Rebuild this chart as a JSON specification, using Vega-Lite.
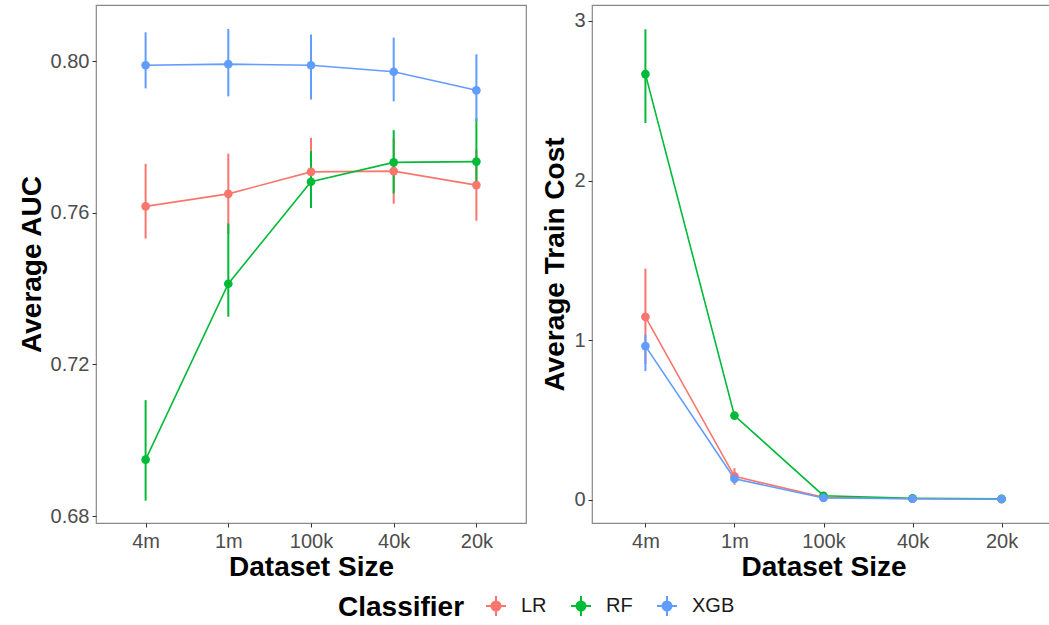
{
  "$schema": "https://vega.github.io/schema/vega-lite/v6.json",
  "padding": {"left": 17, "top": 4, "right": 0, "bottom": 0},
  "background": "white",
  "config": {
    "font": "Liberation Sans",
    "view": {"stroke": "#888888", "strokeWidth": 1.2},
    "axis": {
      "grid": false,
      "domain": false,
      "labelFontSize": 20,
      "labelColor": "#4d4d4d",
      "labelFont": "Liberation Sans",
      "titleFont": "Liberation Sans",
      "titleFontSize": 28,
      "titleFontWeight": "bold",
      "titleColor": "#000000",
      "tickColor": "#333333",
      "tickSize": 4,
      "labelPadding": 3
    },
    "axisX": {"labelAngle": 0, "titlePadding": 2, "labelPadding": 4},
    "axisY": {"titlePadding": 4},
    "concat": {"spacing": 14}
  },
  "data": {
    "values": [
      {"size": "4m", "clf": "LR", "auc": 0.7617, "auc_lo": 0.7532, "auc_hi": 0.7729, "cost": 1.146, "cost_lo": 0.85, "cost_hi": 1.448},
      {"size": "1m", "clf": "LR", "auc": 0.7650, "auc_lo": 0.7545, "auc_hi": 0.7756, "cost": 0.146, "cost_lo": 0.094, "cost_hi": 0.198},
      {"size": "100k", "clf": "LR", "auc": 0.7708, "auc_lo": 0.7618, "auc_hi": 0.7798, "cost": 0.015, "cost_lo": 0.008, "cost_hi": 0.022},
      {"size": "40k", "clf": "LR", "auc": 0.7710, "auc_lo": 0.7624, "auc_hi": 0.7796, "cost": 0.006, "cost_lo": 0.003, "cost_hi": 0.009},
      {"size": "20k", "clf": "LR", "auc": 0.7673, "auc_lo": 0.7579, "auc_hi": 0.7767, "cost": 0.004, "cost_lo": 0.002, "cost_hi": 0.006},
      {"size": "4m", "clf": "RF", "auc": 0.6949, "auc_lo": 0.6841, "auc_hi": 0.7106, "cost": 2.667, "cost_lo": 2.36, "cost_hi": 2.948},
      {"size": "1m", "clf": "RF", "auc": 0.7413, "auc_lo": 0.7326, "auc_hi": 0.7572, "cost": 0.527, "cost_lo": 0.505, "cost_hi": 0.549},
      {"size": "100k", "clf": "RF", "auc": 0.7682, "auc_lo": 0.7613, "auc_hi": 0.7763, "cost": 0.025, "cost_lo": 0.02, "cost_hi": 0.03},
      {"size": "40k", "clf": "RF", "auc": 0.7733, "auc_lo": 0.7651, "auc_hi": 0.7818, "cost": 0.009, "cost_lo": 0.006, "cost_hi": 0.012},
      {"size": "20k", "clf": "RF", "auc": 0.7735, "auc_lo": 0.7675, "auc_hi": 0.7850, "cost": 0.005, "cost_lo": 0.003, "cost_hi": 0.007},
      {"size": "4m", "clf": "XGB", "auc": 0.7989, "auc_lo": 0.7928, "auc_hi": 0.8076, "cost": 0.9625, "cost_lo": 0.806, "cost_hi": 1.035},
      {"size": "1m", "clf": "XGB", "auc": 0.7992, "auc_lo": 0.7907, "auc_hi": 0.8085, "cost": 0.131, "cost_lo": 0.115, "cost_hi": 0.147},
      {"size": "100k", "clf": "XGB", "auc": 0.7989, "auc_lo": 0.7899, "auc_hi": 0.8070, "cost": 0.011, "cost_lo": 0.008, "cost_hi": 0.014},
      {"size": "40k", "clf": "XGB", "auc": 0.7972, "auc_lo": 0.7894, "auc_hi": 0.8062, "cost": 0.006, "cost_lo": 0.004, "cost_hi": 0.008},
      {"size": "20k", "clf": "XGB", "auc": 0.7923, "auc_lo": 0.7842, "auc_hi": 0.8018, "cost": 0.004, "cost_lo": 0.002, "cost_hi": 0.006}
    ]
  },
  "hconcat": [
    {
      "width": 430,
      "height": 518,
      "encoding": {
        "x": {"field": "size", "type": "ordinal", "sort": ["4m", "1m", "100k", "40k", "20k"], "scale": {"type": "point", "padding": 0.6}, "title": "Dataset Size"},
        "color": {
          "field": "clf", "type": "nominal", "title": "Classifier",
          "scale": {"domain": ["LR", "RF", "XGB"], "range": ["#F8766D", "#00BA38", "#619CFF"]},
          "legend": {
            "orient": "none", "legendX": 242, "legendY": 590, "direction": "horizontal", "titleOrient": "left",
            "titleFontSize": 28, "titleFontWeight": "bold", "titleColor": "#000000", "titleFont": "Liberation Sans", "titlePadding": 20,
            "labelFontSize": 20, "labelColor": "#1a1a1a", "labelFont": "Liberation Sans", "labelOffset": 14, "columnPadding": 20,
            "symbolType": "M-1,0H1M0,-1V1M0.45,0A0.45,0.45 0 1,1 -0.45,0A0.45,0.45 0 1,1 0.45,0Z",
            "symbolSize": 400, "symbolStrokeWidth": 2,
            "encode": {"symbols": {"update": {"fill": {"scale": "color", "field": "value"}, "stroke": {"scale": "color", "field": "value"}, "opacity": {"value": 1}, "fillOpacity": {"value": 1}}}}
          }
        }
      },
      "layer": [
        {"mark": {"type": "line", "strokeWidth": 1.6}, "encoding": {"y": {"field": "auc", "type": "quantitative", "scale": {"domain": [0.6782, 0.8148], "nice": false, "zero": false}, "axis": {"values": [0.68, 0.72, 0.76, 0.8], "format": ".2f"}, "title": "Average AUC"}}},
        {"mark": {"type": "rule", "strokeWidth": 2}, "encoding": {"y": {"field": "auc_lo", "type": "quantitative"}, "y2": {"field": "auc_hi"}}},
        {"mark": {"type": "point", "filled": true, "size": 75, "opacity": 1}, "encoding": {"y": {"field": "auc", "type": "quantitative"}}}
      ]
    },
    {
      "width": 463,
      "height": 518,
      "encoding": {
        "x": {"field": "size", "type": "ordinal", "sort": ["4m", "1m", "100k", "40k", "20k"], "scale": {"type": "point", "padding": 0.6}, "title": "Dataset Size"},
        "color": {"field": "clf", "type": "nominal", "title": "Classifier", "scale": {"domain": ["LR", "RF", "XGB"], "range": ["#F8766D", "#00BA38", "#619CFF"]}}
      },
      "layer": [
        {"mark": {"type": "line", "strokeWidth": 1.6}, "encoding": {"y": {"field": "cost", "type": "quantitative", "scale": {"domain": [-0.146, 3.1], "nice": false, "zero": false}, "axis": {"values": [0, 1, 2, 3], "format": "d"}, "title": "Average Train Cost"}}},
        {"mark": {"type": "rule", "strokeWidth": 2}, "encoding": {"y": {"field": "cost_lo", "type": "quantitative"}, "y2": {"field": "cost_hi"}}},
        {"mark": {"type": "point", "filled": true, "size": 75, "opacity": 1}, "encoding": {"y": {"field": "cost", "type": "quantitative"}}}
      ]
    }
  ]
}
